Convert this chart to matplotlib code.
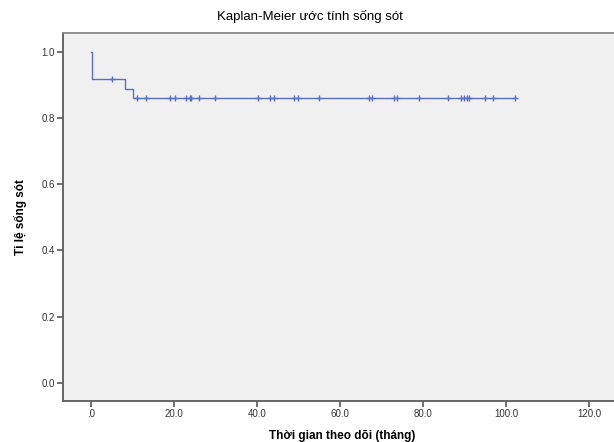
import matplotlib
matplotlib.use("Agg")
import matplotlib.pyplot as plt

plt.rcParams['font.family'] = ['Liberation Sans', 'DejaVu Sans']

# Kaplan-Meier step curve
step_times = [0.0, 0.2, 8.2, 10.2, 102.0]
step_surv = [1.0, 0.917, 0.888, 0.859, 0.859]

# censored observations (time, survival at that time)
censor_times = [5.2, 11.2, 13.2, 19.2, 20.2, 23.0, 23.8, 24.2, 26.1, 30.0,
                40.2, 43.2, 44.0, 49.0, 49.8, 55.0, 67.0, 67.8, 73.0, 73.8,
                79.0, 86.0, 89.0, 89.8, 90.6, 91.0, 95.0, 96.8, 102.0]
censor_surv = [0.917] + [0.859] * (len(censor_times) - 1)

x_ticks = [0, 20, 40, 60, 80, 100, 120]
x_labels = ['.0', '20.0', '40.0', '60.0', '80.0', '100.0', '120.0']
y_ticks = [0.0, 0.2, 0.4, 0.6, 0.8, 1.0]
y_labels = ['0.0', '0.2', '0.4', '0.6', '0.8', '1.0']

line_col = '#5b6fc0'

fig = plt.figure(figsize=(6.14, 4.42), dpi=100)
ax = fig.add_axes([0.1026, 0.0928, 0.91, 0.8325])
ax.set_facecolor('#f0f0f0')

ax.step(step_times, step_surv, where='post', color=line_col, lw=1.0)
ax.plot(censor_times, censor_surv, ls='none', marker='+', ms=5, mew=1.0,
        color=line_col)

ax.set_xlim(-6.67, 127.8)
ax.set_ylim(-0.054, 1.056)
ax.set_xticks(x_ticks)
ax.set_xticklabels(x_labels)
ax.set_yticks(y_ticks)
ax.set_yticklabels(y_labels)
ax.tick_params(axis='both', labelsize=7, colors='#555555', length=4,
               width=1.2, labelcolor='#333333', pad=2)

for side in ['left', 'bottom']:
    ax.spines[side].set_color('#666666')
    ax.spines[side].set_linewidth(1.4)
ax.spines['top'].set_color('#888888')
ax.spines['top'].set_linewidth(1.3)
ax.spines['right'].set_visible(False)

ax.set_xlabel('Thời gian theo dõi (tháng)', fontsize=8.5, fontweight='bold',
              labelpad=8)
ax.set_ylabel('Tỉ lệ sống sót', fontsize=8.5, fontweight='bold', labelpad=10)

fig.text(0.505, 0.962, 'Kaplan-Meier ước tính sống sót', ha='center',
         va='center', fontsize=9.5)

fig.savefig('out.png', dpi=100)
